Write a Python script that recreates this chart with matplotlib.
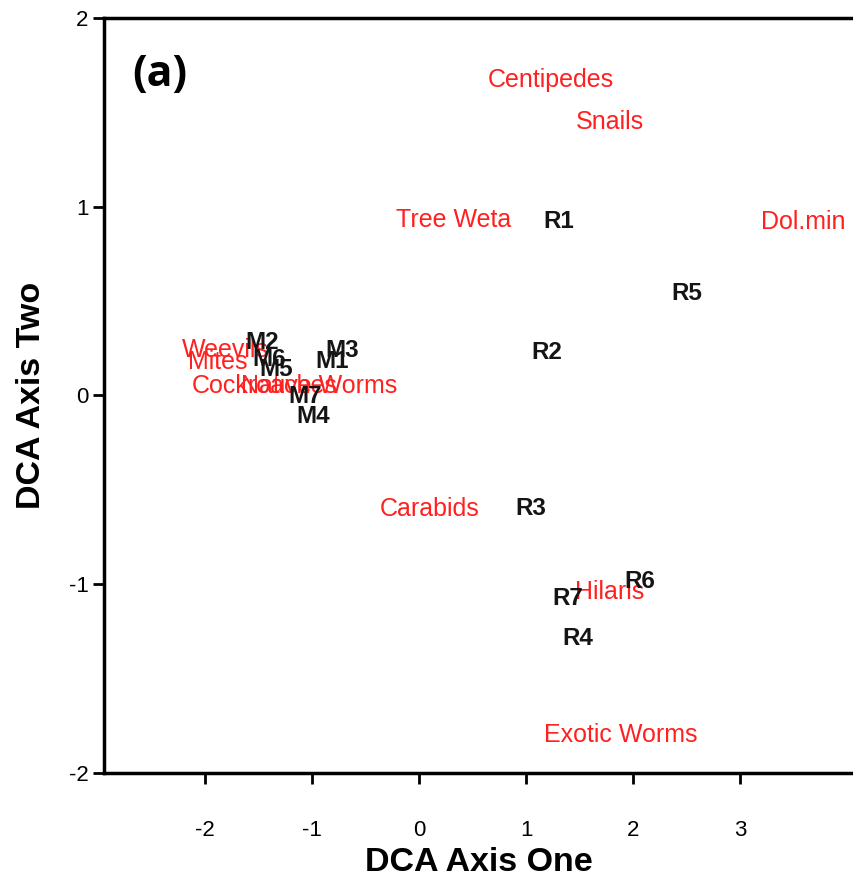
import matplotlib.pyplot as plt

plt.rcParams['font.family'] = ['Liberation Sans', 'DejaVu Sans']
plt.rcParams['axes.unicode_minus'] = False

# --- DCA site scores (black, bold) ---
sites = ["R1", "R5", "R2", "M2", "M3", "M6", "M5", "M1", "M7", "M4",
         "R3", "R6", "R7", "R4"]
site_x = [1.30, 2.50, 1.19, -1.46, -0.72, -1.40, -1.33, -0.81, -1.06, -0.99,
          1.04, 2.06, 1.39, 1.48]
site_y = [0.92, 0.54, 0.23, 0.28, 0.24, 0.19, 0.14, 0.18, -0.005, -0.11,
          -0.60, -0.985, -1.075, -1.29]

# --- DCA species scores (red) ---
species = ["Centipedes", "Snails", "Tree Weta", "Dol.min", "Weevils", "Mites",
           "Cockroaches", "Native Worms", "Carabids", "Hilaris", "Exotic Worms"]
spec_x = [1.23, 1.78, 0.32, 3.59, -1.81, -1.88, -1.44, -0.93, 0.10, 1.78, 1.88]
spec_y = [1.67, 1.45, 0.93, 0.92, 0.24, 0.18, 0.05, 0.05, -0.60, -1.04, -1.80]

xticks = [-2, -1, 0, 1, 2, 3]
yticks = [-2, -1, 0, 1, 2]

fig = plt.figure(figsize=(8.54, 8.77), dpi=100)
ax = fig.add_axes([0.1218, 0.1186, 0.8782, 0.8609])

for name, x, y in zip(species, spec_x, spec_y):
    ax.text(x, y, name, color="#ff2020", fontsize=18, ha="center", va="center")
for name, x, y in zip(sites, site_x, site_y):
    ax.text(x, y, name, color="#151515", fontsize=17.5, fontweight="bold",
            ha="center", va="center")

ax.text(0.075, 0.925, "(a)", transform=ax.transAxes, fontsize=31,
        fontweight="bold", family=["Open Sans", "DejaVu Sans"],
        ha="center", va="center")

ax.set_xlim(-2.94, 4.06)
ax.set_ylim(-2, 2)
ax.set_xticks(xticks)
ax.set_yticks(yticks)
ax.tick_params(direction="out", length=8, width=2, labelsize=16)
ax.tick_params(axis="x", pad=26)
ax.tick_params(axis="y", pad=3)
ax.spines["right"].set_visible(False)
for s in ["left", "top", "bottom"]:
    ax.spines[s].set_linewidth(2.5)

ax.set_xlabel("DCA Axis One", fontsize=24.5, fontweight="bold", labelpad=4)
ax.set_ylabel("DCA Axis Two", fontsize=24.5, fontweight="bold", labelpad=16)

fig.savefig("out.png", dpi=100)
